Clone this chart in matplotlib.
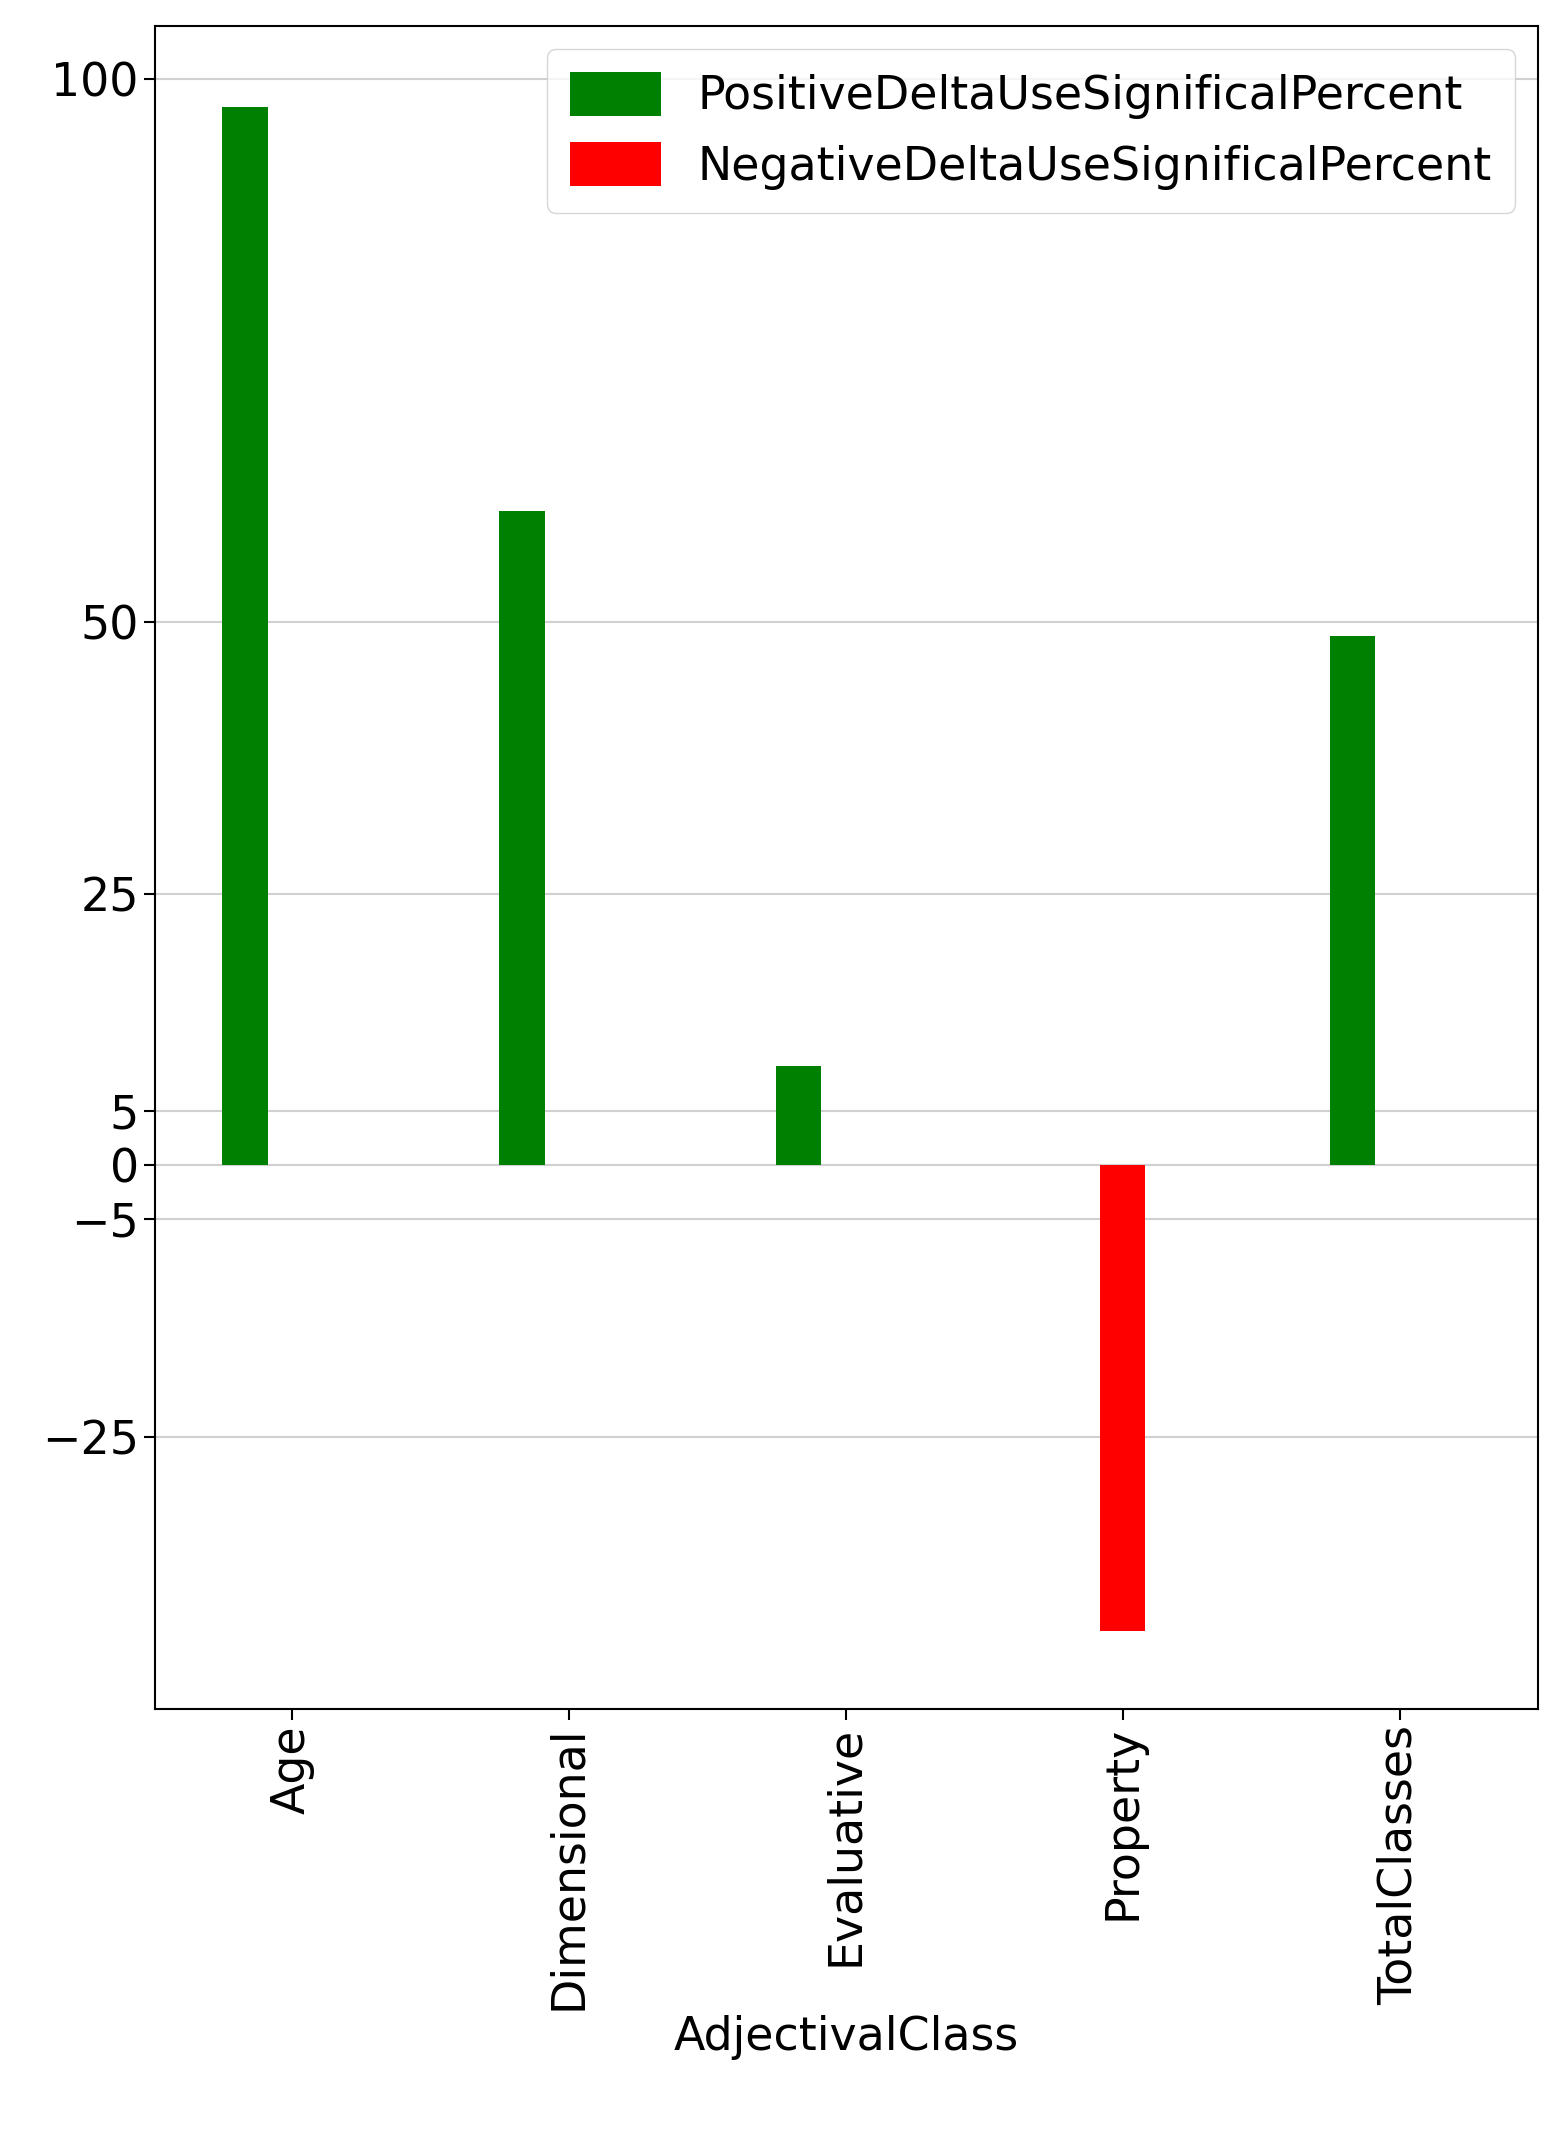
import matplotlib
matplotlib.use("Agg")
import matplotlib.pyplot as plt
import numpy as np

categories = ["Age", "Dimensional", "Evaluative", "Property", "TotalClasses"]
positive = [97.4, 60.2, 9.1, 0, 48.7]
negative = [0, 0, 0, -42.9, 0]
yticks = [100, 50, 25, 5, 0, -5, -25]

fig = plt.figure(figsize=(15.63, 21.42), dpi=100)
ax = fig.add_axes([0.099, 0.202, 0.885, 0.786])
x = np.arange(len(categories))
ax.bar(x - 0.17, positive, width=0.165, color="green", label="PositiveDeltaUseSignificalPercent", zorder=3)
ax.bar(x, negative, width=0.165, color="red", label="NegativeDeltaUseSignificalPercent", zorder=3)
ax.set_xlim(-0.495, 4.5)
ax.set_ylim(-50.1, 104.9)
ax.set_yticks(yticks)
ax.set_xticks(x)
ax.set_xticklabels(categories, rotation=90)
ax.yaxis.grid(True, color="#d0d0d0", linewidth=1.5, zorder=0)
ax.tick_params(labelsize=33, length=8, width=1.5)
for s in ax.spines.values():
    s.set_linewidth(1.5)
ax.set_xlabel("AdjectivalClass", fontsize=33)
ax.legend(loc="upper right", fontsize=33, handlelength=2.0, handleheight=1.1, borderpad=0.5)
fig.savefig("out.png", dpi=100)
